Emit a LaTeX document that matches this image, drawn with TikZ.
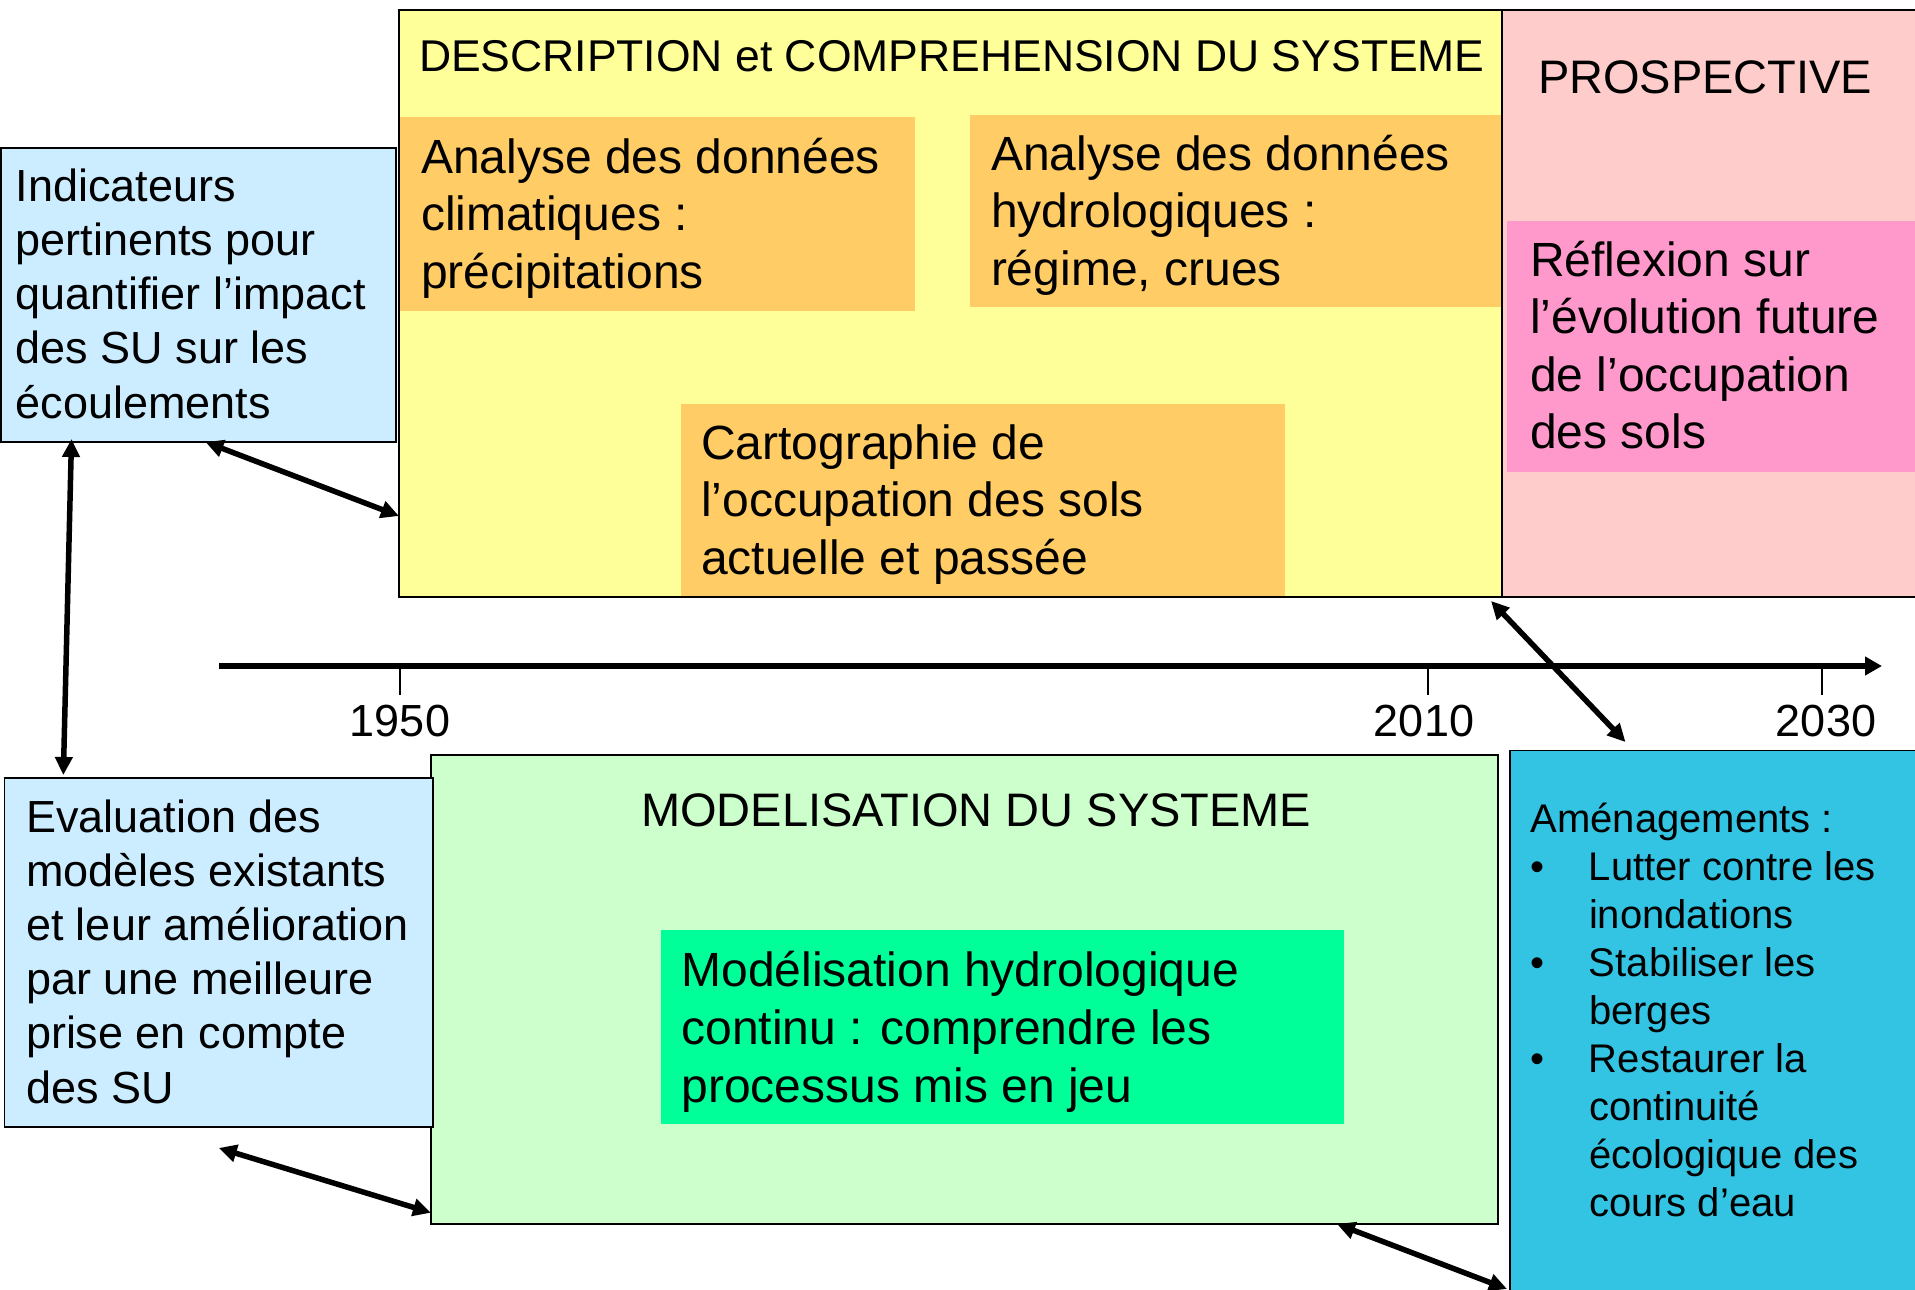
\documentclass[tikz,border=0pt]{standalone}
\usepackage{fontspec}
\setmainfont{Liberation Sans}
\usetikzlibrary{arrows.meta}
\definecolor{yelbg}{HTML}{FFFF99}
\definecolor{orng}{HTML}{FFCC66}
\definecolor{pinkbg}{HTML}{FFCCCC}
\definecolor{magbg}{HTML}{FF99CC}
\definecolor{lblue}{HTML}{CCECFF}
\definecolor{lgreen}{HTML}{CCFFCC}
\definecolor{vgreen}{HTML}{00FF99}
\definecolor{cyanbg}{RGB}{51,196,228}
\tikzset{
  box/.style={draw=black, line width=1.8pt, inner sep=0pt, outer sep=0pt, anchor=north west},
  plain/.style={draw=none, inner sep=0pt, outer sep=0pt, anchor=north west},
  border/.style={draw=black, line width=1.8pt},
  txt/.style={anchor=base west, align=left, inner sep=0pt, outer sep=0pt},
  big/.style={font=\fontsize{48}{57.5}\selectfont},
  mid/.style={font=\fontsize{45}{54.2}\selectfont},
  hdr/.style={font=\fontsize{47}{56}\selectfont},
  sml/.style={font=\fontsize{40}{48}\selectfont},
  dbl/.style={line width=5.5pt, {Triangle[length=18pt,width=17pt]}-{Triangle[length=18pt,width=17pt]}},
  axisline/.style={line width=6pt, -{Triangle[length=17pt,width=18pt]}},
  tick/.style={line width=2pt},
}
\begin{document}
\begin{tikzpicture}[x=1pt,y=-1pt]
\useasboundingbox (0,0) rectangle (1915,1290);
% top: description
\node[plain, fill=yelbg, minimum width=1103pt, minimum height=587pt] (desc) at (399,10) {};
\node[plain, fill=orng, minimum width=516pt, minimum height=194pt] (clim) at (399,117) {};
\node[plain, fill=orng, minimum width=532pt, minimum height=192pt] (hydro) at (970,115) {};
\node[plain, fill=orng, minimum width=604pt, minimum height=193pt] (carto) at (681,404) {};
\draw[border] (desc.north west) rectangle (desc.south east);
% prospective
\node[box, fill=pinkbg, minimum width=430pt, minimum height=587pt] (pros) at (1502,10) {};
\node[plain, fill=magbg, minimum width=425pt, minimum height=251pt] (refl) at (1507,221) {};
% left boxes
\node[box, fill=lblue, minimum width=395pt, minimum height=294pt] (ind) at (1,148) {};
% modelisation
\node[box, fill=lgreen, minimum width=1067pt, minimum height=469pt] (modsys) at (431,755) {};
\node[plain, fill=vgreen, minimum width=683pt, minimum height=194pt] (modh) at (661,930) {};
\node[box, fill=lblue, minimum width=428.5pt, minimum height=349pt] (eval) at (4.5,778) {};
% amenagements
\node[box, fill=cyanbg, minimum width=420pt, minimum height=560pt] (amen) at (1510,750.5) {};

% texts (anchor base = baseline of last line)
\node[txt, font=\fontsize{44.5}{53}\selectfont] (tdesc) at (419,71) {DESCRIPTION et COMPREHENSION DU SYSTEME};
\node[txt, hdr] (tpros) at (1538,93.7) {PROSPECTIVE};
\node[txt, big] (tclim) at (421,288) {Analyse des données\\climatiques :\\précipitations};
\node[txt, big] (thydro) at (991,285) {Analyse des données\\hydrologiques :\\régime, crues};
\node[txt, big] (tcarto) at (701,574) {Cartographie de\\l’occupation des sols\\actuelle et passée};
\node[txt, big] (trefl) at (1530,448.6) {Réflexion sur\\l’évolution future\\de l’occupation\\des sols};
\node[txt, mid] (tind) at (15.6,418) {Indicateurs\\pertinents pour\\quantifier l’impact\\des SU sur les\\écoulements};
\node[txt, mid] (teval) at (26,1103) {Evaluation des\\modèles existants\\et leur amélioration\\par une meilleure\\prise en compte\\des SU};
\node[txt, hdr] (tmod) at (641,826.7) {MODELISATION DU SYSTEME};
\node[txt, font=\fontsize{48}{58}\selectfont] (tmodh) at (681.5,1102) {Modélisation hydrologique\\continu : comprendre les\\processus mis en jeu};
\node[txt, sml] (tamen) at (1530.6,1216) {Aménagements :\\
\makebox[58.4pt][l]{•}Lutter contre les\\
\makebox[58.4pt][l]{}inondations\\
\makebox[58.4pt][l]{•}Stabiliser les\\
\makebox[58.4pt][l]{}berges\\
\makebox[58.4pt][l]{•}Restaurer la\\
\makebox[58.4pt][l]{}continuité\\
\makebox[58.4pt][l]{}écologique des\\
\makebox[58.4pt][l]{}cours d’eau};

% time axis
\coordinate (axs) at (219,666);
\coordinate (axe) at (1882,666);
\draw[axisline] (axs) -- (axe);
\coordinate (t1) at (400,666);
\coordinate (t2) at (1428,666);
\coordinate (t3) at (1822,666);
\draw[tick] (t1) -- ++(0,29);
\draw[tick] (t2) -- ++(0,29);
\draw[tick] (t3) -- ++(0,29);
\node[anchor=base, inner sep=0pt, mid] (y1) at (400,736) {1950};
\node[anchor=base, inner sep=0pt, mid] (y2) at (1424,736) {2010};
\node[anchor=base, inner sep=0pt, mid] (y3) at (1826,736) {2030};

% connectors
\draw[dbl] ([xshift=7pt]ind.south) -- ([yshift=-212.5pt]desc.west);
\draw[dbl] ([xshift=-127pt,yshift=3pt]ind.south) -- ([xshift=-155.4pt,yshift=3pt]eval.north);
\draw[dbl] ([yshift=-21pt]eval.south) -- ([yshift=-223.2pt]modsys.west);
\draw[dbl] ([xshift=372.5pt]modsys.south) -- ([xshift=-3pt,yshift=-258.5pt]amen.west);
\draw[dbl] ([xshift=-11pt,yshift=-4pt]desc.south east) -- ([xshift=-94.5pt,yshift=8.5pt]amen.north);
\end{tikzpicture}
\end{document}
